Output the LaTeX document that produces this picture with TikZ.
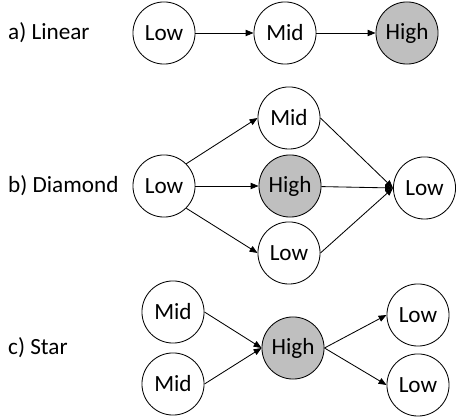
\documentclass[tikz,border=0pt]{standalone}
\usepackage{fontspec}
\setmainfont{Carlito}
\usepackage{tikz}
\usetikzlibrary{positioning,calc,arrows.meta}

\tikzset{
    state/.style={circle, draw, line width=0.8pt, minimum size=2.07cm, inner sep=0pt, font=\fontsize{22}{26}\selectfont},
    hot/.style={state, fill=black!25},
    link/.style={-{Triangle[length=7.5pt,width=6pt]}, line width=0.8pt},
    caption/.style={anchor=west, inner sep=0pt, font=\fontsize{22}{26}\selectfont}
}

\begin{document}
\begin{tikzpicture}
    \useasboundingbox (0,0) rectangle (15.2,13.933);

    % Linear
    \node [caption] (capA) at (0.267, 12.833) {a) Linear};
    \node [state] (linLow) at (5.467, 12.833) {Low};
    \node [state] (linMid) at (9.5, 12.833) {Mid};
    \node [hot] (linHigh) at (13.567, 12.833) {High};
    \draw [link] (linLow) -- (linMid);
    \draw [link] (linMid) -- (linHigh);

    % Diamond
    \node [caption] (capB) at (0.267, 7.733) {b) Diamond};
    \node [state] (diaLow) at (5.467, 7.733) {Low};
    \node [state] (diaMid) at (9.633, 10.0) {Mid};
    \node [hot] (diaHigh) at (9.667, 7.733) {High};
    \node [state] (diaLowB) at (9.633, 5.5) {Low};
    \node [state] (diaEnd) at (14.15, 7.667) {Low};
    \draw [link] (diaLow.north east) -- (diaMid.west);
    \draw [link] (diaLow) -- (diaHigh);
    \draw [link] (diaLow.south east) -- (diaLowB.west);
    \draw [link] (diaMid.east) -- (diaEnd.west);
    \draw [link] (diaHigh) -- (diaEnd.west);
    \draw [link] (diaLowB.east) -- (diaEnd.west);

    % Star
    \node [caption] (capC) at (0.267, 2.333) {c) Star};
    \node [state] (starMidA) at (5.767, 3.533) {Mid};
    \node [state] (starMidB) at (5.767, 1.133) {Mid};
    \node [hot] (starHigh) at (9.767, 2.333) {High};
    \node [state] (starLowA) at (13.933, 3.433) {Low};
    \node [state] (starLowB) at (13.933, 1.1) {Low};
    \draw [link] (starMidA.east) -- (starHigh.west);
    \draw [link] (starMidB.east) -- (starHigh.west);
    \draw [link] (starHigh.east) -- (starLowA.west);
    \draw [link] (starHigh.east) -- (starLowB.west);
\end{tikzpicture}
\end{document}
